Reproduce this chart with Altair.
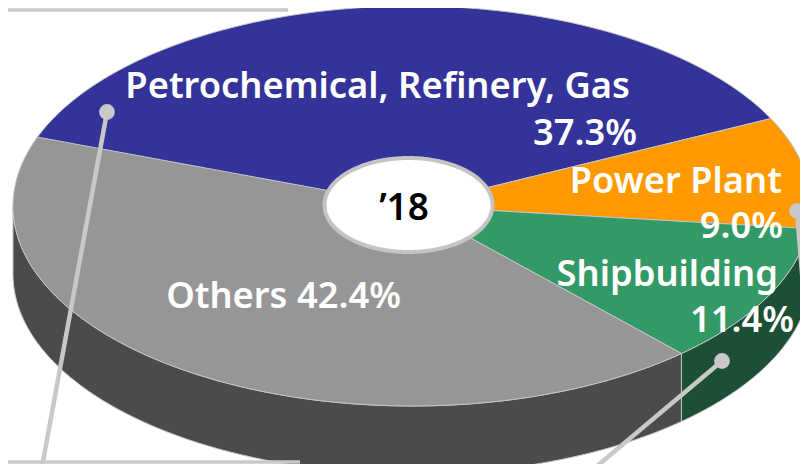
import math
import altair as alt
import pandas as pd

categories = ["Petrochemical, Refinery, Gas", "Power Plant", "Shipbuilding", "Others"]
shares = [37.3, 9.0, 11.4, 42.4]
top_colors = ["#333399", "#FF9900", "#339966", "#969696"]
side_colors = {"Shipbuilding": "#1C4F35", "Others": "#4B4B4B"}
edge = "#C4C4C4"
callout = "#C8C8C8"
FONT = "Noto Sans"

START = 160.2      # degrees, parametric angle on the tilted disc
DEPTH = 68 / 200   # wall depth, in disc radii

X = alt.X("x:Q", axis=None, scale=alt.Scale(domain=[-1, 1], range=[5, 803], clamp=False))
Y = alt.Y("y:Q", axis=None, scale=alt.Scale(domain=[1, -1], range=[-2, 398], clamp=False))


def polygon(points, fill):
    df = pd.DataFrame(points, columns=["x", "y"]).reset_index(names="i")
    return alt.Chart(df).mark_line(
        fill=fill, stroke=edge, strokeWidth=1, strokeJoin="round", interpolate="linear"
    ).encode(x=X, y=Y, order="i:Q")


def arc(a, b):
    n = max(2, int(abs(b - a)) + 1)
    return [(a + (b - a) * k / n) for k in range(n + 1)]


def pt(t, dy=0.0):
    return (math.cos(math.radians(t)), math.sin(math.radians(t)) - dy)


layers = []
angle = START
bounds = {}
for name, share in zip(categories, shares):
    bounds[name] = (angle, angle - share * 3.6)
    angle -= share * 3.6

# side wall (visible lower half only)
split = bounds["Shipbuilding"][1]   # boundary between green and grey on the wall
wall_others = [pt(t) for t in arc(-180, split)] + [pt(t, DEPTH) for t in arc(split, -180)]
wall_ship = [pt(t) for t in arc(split, 0)] + [pt(t, DEPTH) for t in arc(0, split)]
layers.append(polygon(wall_others + wall_others[:1], side_colors["Others"]))
layers.append(polygon(wall_ship + wall_ship[:1], side_colors["Shipbuilding"]))

# top surface wedges
for name, color in zip(categories, top_colors):
    a, b = bounds[name]
    pts = [(0.0, 0.0)] + [pt(t) for t in arc(a, b)] + [(0.0, 0.0)]
    layers.append(polygon(pts, color))

chart_base = alt.Chart(pd.DataFrame({"a": [0]}))


def seg(x1, y1, x2, y2, w=4.5):
    return alt.Chart(pd.DataFrame({"a": [0]})).mark_rule(color=callout, strokeWidth=w).encode(
        x=alt.value(x1 - 8), y=alt.value(y1 - 8), x2=alt.value(x2 - 8), y2=alt.value(y2 - 8)
    )


def dot(x, y):
    return chart_base.mark_point(filled=True, color=callout, size=250, opacity=1, shape="circle").encode(
        x=alt.value(x - 8), y=alt.value(y - 8)
    )


def label(text, x, y, align="right", color="white", size=36.3):
    return chart_base.mark_text(
        text=text, font=FONT, fontWeight=600, fontSize=size, color=color, align=align, baseline="alphabetic"
    ).encode(x=alt.value(x - 8), y=alt.value(y - 8))


# centre badge
ellipse_t = [pt(t) for t in arc(0, 360)]
badge = pd.DataFrame(
    [(c * 84 / 399, s * 47 / 200) for c, s in ellipse_t], columns=["x", "y"]
).reset_index(names="i")
badge["x"] -= 3.5 / 399
badge["y"] += 1 / 200
layers.append(
    alt.Chart(badge).mark_line(fill="white", stroke=edge, strokeWidth=4).encode(x=X, y=Y, order="i:Q")
)

layers += [
    seg(8, 10, 288, 10, 3.5),
    seg(8, 462, 300, 462, 3.5),
    seg(107, 112, 42, 467),
    dot(107, 112),
    seg(797, 211, 808, 348),
    dot(797, 211),
    seg(722, 361, 590, 472),
    dot(722, 361),
    label("Petrochemical, Refinery, Gas", 630, 98),
    label("37.3%", 637, 145),
    label("Power Plant", 782, 193),
    label("9.0%", 783, 238),
    label("Shipbuilding", 778, 286),
    label("11.4%", 794, 332),
    label("Others 42.4%", 401, 308),
    label("\u201918", 404, 220, align="center", color="black", size=37),
]

chart = (
    alt.layer(*layers)
    .properties(
        width=792, height=456, padding=0, background="white",
        autosize=alt.AutoSizeParams(type="none", contains="padding"),
    )
    .configure_view(stroke=None)
)
chart.save("out.html", embed_options={"renderer": "svg", "actions": False})
